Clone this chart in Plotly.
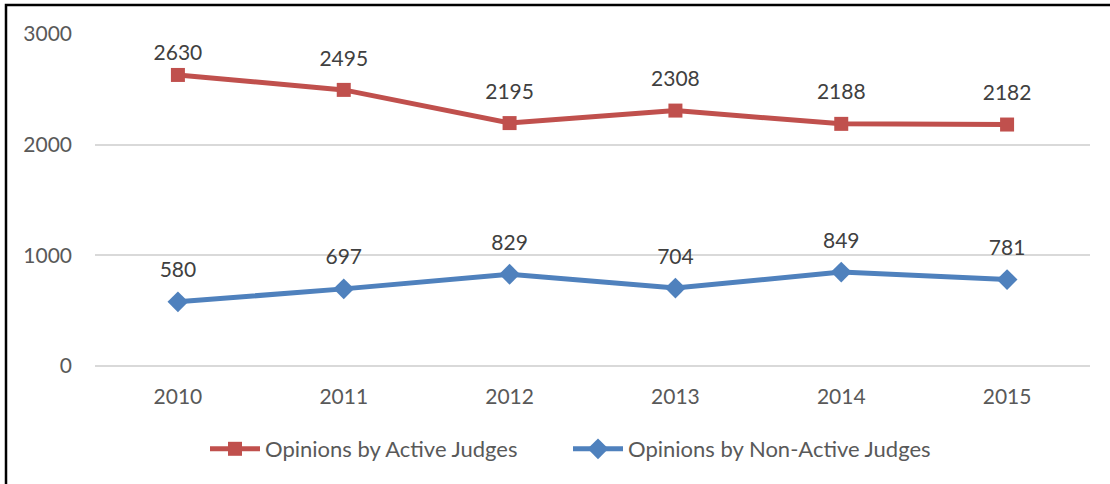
import plotly.graph_objects as go

# Data
years = ['2010', '2011', '2012', '2013', '2014', '2015']
active = [2630, 2495, 2195, 2308, 2188, 2182]
non_active = [580, 697, 829, 704, 849, 781]

# plot area in pixels
L, R, T, B = 95, 20, 34, 118
W, H = 1110, 484
pw = W - L - R
ph = H - T - B

def px_x(p):
    return (p - L) / pw

def px_y(p):
    return (H - B - p) / ph

fig = go.Figure()
fig.add_trace(go.Scatter(x=years, y=active, mode='lines+markers',
                         name='Opinions by Active Judges',
                         line=dict(color='#C0504D', width=5),
                         marker=dict(symbol='square', size=14, color='#C0504D')))
fig.add_trace(go.Scatter(x=years, y=non_active, mode='lines+markers',
                         name='Opinions by Non-Active Judges',
                         line=dict(color='#4F81BD', width=5),
                         marker=dict(symbol='diamond', size=16, color='#4F81BD')))

# data labels (invisible markers push the text up; first red one sits lower, like Excel)
label_gap_red = [14, 29, 29, 29, 29, 29]
label_gap_blue = [29, 29, 29, 29, 29, 29]
for vals, gap in [(active, label_gap_red), (non_active, label_gap_blue)]:
    fig.add_trace(go.Scatter(x=years, y=vals, mode='markers+text',
                             marker=dict(size=gap, opacity=0),
                             text=[str(v) for v in vals], textposition='top center',
                             textfont=dict(size=21, color='#404040'),
                             showlegend=False, hoverinfo='skip'))

# outer chart border (runs off the right and bottom edges)
fig.add_shape(type='rect', xref='paper', yref='paper',
              x0=px_x(6), y0=px_y(5), x1=px_x(1130), y1=px_y(510),
              line=dict(color='black', width=2.5), layer='above')

fig.update_layout(
    width=W, height=H,
    margin=dict(l=L, r=R, t=T, b=B),
    plot_bgcolor='white', paper_bgcolor='white',
    font=dict(family='Lato', size=21, color='#595959'),
    showlegend=True,
    legend=dict(orientation='h', x=px_x(205), xanchor='left',
                y=px_y(449), yanchor='middle', entrywidth=298, itemwidth=50,
                font=dict(size=22, color='#595959')),
    xaxis=dict(type='category', range=[-0.5, 5.5], showgrid=False,
               showline=False, ticks='', ticklabelstandoff=16),
    yaxis=dict(range=[0, 3000], tickvals=[0, 1000, 2000, 3000],
               gridcolor='#D9D9D9', gridwidth=1.5, zeroline=True,
               zerolinecolor='#D9D9D9', zerolinewidth=1.5,
               showline=False, ticks='', ticklabelstandoff=22),
)

fig.write_html('out.html', config={'displayModeBar': False},
               post_script="document.body.style.margin='0';")
